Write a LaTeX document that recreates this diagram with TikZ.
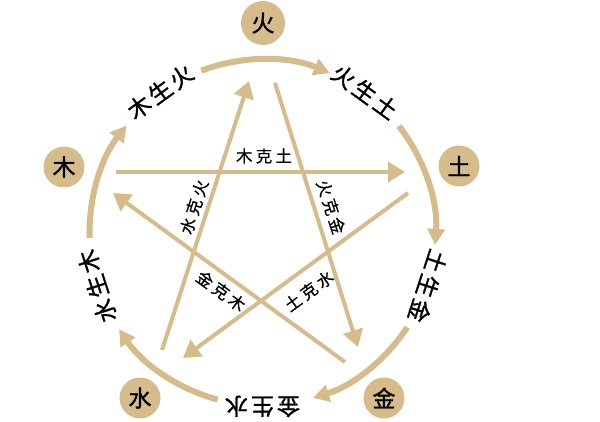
\documentclass[tikz,border=0pt]{standalone}
\usepackage{fontspec}
\newfontfamily\cjk[FakeBold=0.5]{Noto Sans CJK SC}
\newfontfamily\cjkb[FakeBold=1.2]{Noto Sans CJK SC}
\usetikzlibrary{arrows.meta,calc}
\definecolor{tan}{HTML}{D6BC8B}
\begin{document}
\begin{tikzpicture}[x=1pt,y=1pt,
  elem/.style={circle,fill=tan,minimum size=41pt,inner sep=0pt,font=\cjkb\fontsize{23}{23}\selectfont},
  shenglab/.style={font=\cjkb\fontsize{23}{23}\selectfont,inner sep=0pt},
  kelab/.style={font=\cjk\fontsize{16.5}{16.5}\selectfont,inner sep=0pt},
  kearrow/.style={draw=tan,line width=4pt,-{Triangle[length=17pt,width=20pt]}},
  shengarrow/.style={draw=tan,line width=6pt,-{Triangle[length=16pt,width=17pt]}},
]
\useasboundingbox (0,0) rectangle (600,421);
\coordinate (C) at (262.5,188.5);

% element circles
\node[elem,minimum size=44pt] (huo) at (263,398) {火};
\node[elem] (mu) at (64,254) {木};
\node[elem] (tu) at (459,255) {土};
\node[elem] (shui) at (140,23) {水};
\node[elem] (jin) at (384,23) {金};

% restraining (ke) star lines
\coordinate (mk1) at (116,249); \coordinate (mk2) at (405,249);
\coordinate (hk1) at (275,338); \coordinate (hk2) at (358,74);
\coordinate (sk1) at (162,71);  \coordinate (sk2) at (249,340);
\coordinate (jk1) at (345,59);  \coordinate (jk2) at (113,228);
\coordinate (tk1) at (408,228); \coordinate (tk2) at (183,63);
\draw[kearrow] (mk1) -- (mk2);
\draw[kearrow] (hk1) -- (hk2);
\draw[kearrow] (sk1) -- (sk2);
\draw[kearrow] (jk1) -- (jk2);
\draw[kearrow] (tk1) -- (tk2);

\node[kelab] (lmk) at (264,265) {木\kern3.2pt 克\kern3.2pt 土};
\node[kelab,rotate=72] (lsk) at (194,214) {水\kern3.2pt 克\kern3.2pt 火};
\node[kelab,rotate=-72] (lhk) at (331,214) {火\kern3.2pt 克\kern3.2pt 金};
\node[kelab,rotate=-36] (ljk) at (221,130) {金\kern3.2pt 克\kern3.2pt 木};
\node[kelab,rotate=36] (ltk) at (309,130) {土\kern3.2pt 克\kern3.2pt 水};

% generating (sheng) arcs
\foreach \s/\e [count=\i] in {110.7/67.1, 38/-4.1, -33.2/-73, 255/214, 181.8/141.8} {
  \coordinate (arcS\i) at ($(C)+(\s:173)$);
  \draw[shengarrow] (arcS\i) arc[start angle=\s, end angle=\e, radius=173];
}

% generating labels along the circle
\foreach \t/\txt [count=\i] in {126/木\kern3pt 生\kern3pt 火, 54/火\kern3pt 生\kern3pt 土, -18/土\kern3pt 生\kern3pt 金, -90/金\kern3pt 生\kern3pt 水, 198/水\kern3pt 生\kern3pt 木} {
  \pgfmathsetmacro{\rr}{\t-90}
  \node[shenglab,rotate=\rr] (s\i) at ($(C)+(\t:174)$) {\txt};
}
\end{tikzpicture}
\end{document}
